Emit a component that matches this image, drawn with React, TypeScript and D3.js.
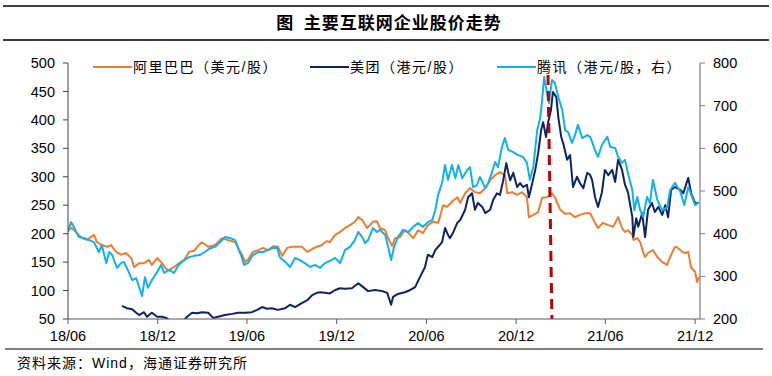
import React from 'react';
import * as d3 from 'd3';

const titleText = '图  主要互联网企业股价走势';
const sourceText = '资料来源：Wind，海通证券研究所';
const seriesNames = ['阿里巴巴（美元/股）', '美团（港元/股）', '腾讯（港元/股，右）'];
const seriesColors = ['#ED7D31', '#0C2461', '#12B0F0'];

const xTickDates = ['2018-06-01', '2018-12-01', '2019-06-01', '2019-12-01', '2020-06-01', '2020-12-01', '2021-06-01', '2021-12-01'];
const xTickLabels = ['18/06', '18/12', '19/06', '19/12', '20/06', '20/12', '21/06', '21/12'];
const leftTicks = [50, 100, 150, 200, 250, 300, 350, 400, 450, 500];
const rightTicks = [200, 300, 400, 500, 600, 700, 800];
const xDomain = ['2018-06-01', '2021-12-11'];

const alibaba: [string, number][] = [
  ['2018-06-01', 206], ['2018-06-09', 210], ['2018-06-19', 201], ['2018-06-30', 192], ['2018-07-10', 189], ['2018-07-24', 198], ['2018-07-30', 185], ['2018-08-09', 180], ['2018-08-20', 177], ['2018-08-28', 180], ['2018-09-07', 168], ['2018-09-17', 163], ['2018-09-27', 166], ['2018-10-08', 157], ['2018-10-14', 141], ['2018-10-24', 148], ['2018-11-03', 148], ['2018-11-13', 154], ['2018-11-19', 145], ['2018-11-30', 157], ['2018-12-10', 148], ['2018-12-18', 138], ['2018-12-24', 136],
  ['2019-01-03', 141], ['2019-01-13', 148], ['2019-01-24', 154], ['2019-02-03', 168], ['2019-02-13', 170], ['2019-02-23', 180], ['2019-03-01', 185], ['2019-03-14', 177], ['2019-03-28', 180], ['2019-04-11', 192], ['2019-04-23', 189], ['2019-05-08', 185], ['2019-05-14', 175], ['2019-05-22', 163], ['2019-05-28', 150], ['2019-06-03', 154], ['2019-06-13', 168], ['2019-06-24', 171], ['2019-07-04', 175], ['2019-07-14', 171], ['2019-07-24', 178], ['2019-08-03', 177], ['2019-08-12', 161], ['2019-08-22', 175], ['2019-09-01', 177], ['2019-09-11', 177], ['2019-09-21', 177], ['2019-10-02', 168], ['2019-10-12', 173], ['2019-10-22', 177], ['2019-11-01', 180], ['2019-11-11', 187], ['2019-11-17', 185], ['2019-11-28', 198], ['2019-12-08', 203], ['2019-12-18', 210], ['2019-12-28', 215],
  ['2020-01-07', 221], ['2020-01-14', 229], ['2020-01-22', 224], ['2020-02-01', 210], ['2020-02-07', 215], ['2020-02-13', 221], ['2020-02-21', 222], ['2020-02-27', 210], ['2020-03-09', 206], ['2020-03-15', 192], ['2020-03-23', 178], ['2020-03-29', 192], ['2020-04-08', 194], ['2020-04-18', 206], ['2020-04-29', 198], ['2020-05-05', 192], ['2020-05-15', 206], ['2020-05-25', 201], ['2020-06-04', 215], ['2020-06-15', 221], ['2020-06-25', 219], ['2020-06-29', 231], ['2020-07-05', 250], ['2020-07-13', 247], ['2020-07-23', 256], ['2020-08-03', 264], ['2020-08-09', 254], ['2020-08-19', 271], ['2020-08-29', 280], ['2020-09-08', 273], ['2020-09-18', 271], ['2020-09-29', 280], ['2020-10-09', 294], ['2020-10-19', 303], ['2020-10-29', 308], ['2020-11-08', 303], ['2020-11-13', 271], ['2020-11-23', 273], ['2020-12-03', 268], ['2020-12-13', 273], ['2020-12-23', 264], ['2020-12-27', 229],
  ['2021-01-05', 233], ['2021-01-15', 238], ['2021-01-23', 263], ['2021-02-02', 264], ['2021-02-12', 271], ['2021-02-18', 264], ['2021-03-01', 242], ['2021-03-11', 235], ['2021-03-21', 236], ['2021-03-31', 229], ['2021-04-10', 233], ['2021-04-21', 236], ['2021-05-01', 236], ['2021-05-11', 219], ['2021-05-17', 210], ['2021-05-27', 219], ['2021-06-07', 215], ['2021-06-17', 212], ['2021-06-27', 229], ['2021-07-05', 210], ['2021-07-11', 203], ['2021-07-17', 206], ['2021-07-26', 198], ['2021-07-28', 189], ['2021-08-05', 192], ['2021-08-11', 185], ['2021-08-17', 168], ['2021-08-21', 159], ['2021-08-27', 166], ['2021-09-06', 171], ['2021-09-15', 159], ['2021-09-25', 150], ['2021-10-05', 145], ['2021-10-11', 159], ['2021-10-21', 177], ['2021-10-27', 175], ['2021-11-05', 168], ['2021-11-11', 166], ['2021-11-17', 168], ['2021-11-23', 140], ['2021-12-01', 133], ['2021-12-05', 115], ['2021-12-09', 124],
];

const meituan: [string, number][] = [
  ['2018-09-19', 73], ['2018-09-29', 69], ['2018-10-10', 67], ['2018-10-18', 61], ['2018-10-24', 57], ['2018-11-03', 62], ['2018-11-09', 54], ['2018-11-19', 61], ['2018-11-30', 54], ['2018-12-10', 54], ['2018-12-18', 52], ['2018-12-26', 47], ['2019-01-05', 44], ['2019-01-15', 45], ['2019-01-24', 48], ['2019-01-30', 54], ['2019-02-09', 61], ['2019-02-19', 60], ['2019-03-01', 62], ['2019-03-14', 61], ['2019-03-24', 52], ['2019-04-03', 54], ['2019-04-17', 57], ['2019-05-02', 59], ['2019-05-14', 61], ['2019-05-28', 61], ['2019-06-11', 62], ['2019-06-22', 66], ['2019-07-02', 71], ['2019-07-12', 68], ['2019-07-22', 69], ['2019-08-03', 66], ['2019-08-18', 69], ['2019-08-28', 75], ['2019-09-07', 71], ['2019-09-21', 78], ['2019-10-02', 83], ['2019-10-12', 92], ['2019-10-22', 96], ['2019-10-28', 97], ['2019-11-07', 96], ['2019-11-17', 95], ['2019-11-28', 101], ['2019-12-08', 104], ['2019-12-18', 103],
  ['2020-01-01', 104], ['2020-01-14', 113], ['2020-01-24', 106], ['2020-02-03', 99], ['2020-02-17', 101], ['2020-03-03', 99], ['2020-03-13', 96], ['2020-03-21', 75], ['2020-03-25', 89], ['2020-04-04', 94], ['2020-04-18', 97], ['2020-04-29', 101], ['2020-05-09', 106], ['2020-05-19', 124], ['2020-05-29', 141], ['2020-06-04', 163], ['2020-06-13', 159], ['2020-06-19', 171], ['2020-06-25', 177], ['2020-07-03', 185], ['2020-07-09', 210], ['2020-07-15', 198], ['2020-07-19', 192], ['2020-07-25', 201], ['2020-08-03', 219], ['2020-08-09', 224], ['2020-08-19', 242], ['2020-08-25', 264], ['2020-09-02', 271], ['2020-09-08', 242], ['2020-09-14', 254], ['2020-09-23', 247], ['2020-09-29', 236], ['2020-10-09', 242], ['2020-10-15', 259], ['2020-10-23', 271], ['2020-10-29', 268], ['2020-11-04', 291], ['2020-11-11', 324], ['2020-11-15', 307], ['2020-11-19', 294], ['2020-11-25', 307], ['2020-12-03', 282], ['2020-12-09', 289], ['2020-12-15', 282], ['2020-12-23', 286], ['2020-12-27', 264],
  ['2021-01-03', 289], ['2021-01-09', 312], ['2021-01-15', 342], ['2021-01-21', 382], ['2021-01-25', 396], ['2021-01-31', 370], ['2021-02-04', 395], ['2021-02-10', 417], ['2021-02-14', 449], ['2021-02-21', 440], ['2021-02-25', 405], ['2021-03-03', 370], ['2021-03-07', 359], ['2021-03-15', 330], ['2021-03-21', 338], ['2021-03-27', 282], ['2021-04-04', 300], ['2021-04-10', 289], ['2021-04-17', 280], ['2021-04-25', 307], ['2021-05-01', 303], ['2021-05-05', 294], ['2021-05-11', 264], ['2021-05-17', 247], ['2021-05-25', 273], ['2021-05-31', 312], ['2021-06-07', 303], ['2021-06-15', 312], ['2021-06-21', 291], ['2021-06-27', 330], ['2021-07-05', 312], ['2021-07-11', 286], ['2021-07-17', 273], ['2021-07-26', 229], ['2021-07-28', 194], ['2021-08-03', 227], ['2021-08-07', 212], ['2021-08-15', 236], ['2021-08-21', 194], ['2021-08-27', 242], ['2021-09-04', 254], ['2021-09-10', 238], ['2021-09-17', 247], ['2021-09-25', 233], ['2021-10-01', 250], ['2021-10-07', 229], ['2021-10-13', 277], ['2021-10-21', 282], ['2021-11-01', 277], ['2021-11-07', 271], ['2021-11-17', 298], ['2021-11-23', 271], ['2021-12-01', 254], ['2021-12-09', 254],
];

const tencent: [string, number][] = [
  ['2018-06-01', 404], ['2018-06-07', 427], ['2018-06-13', 416], ['2018-06-23', 392], ['2018-07-04', 390], ['2018-07-14', 385], ['2018-07-24', 380], ['2018-08-03', 357], ['2018-08-09', 373], ['2018-08-18', 331], ['2018-08-24', 357], ['2018-08-30', 350], ['2018-09-09', 320], ['2018-09-17', 331], ['2018-09-23', 334], ['2018-10-03', 310], ['2018-10-10', 291], ['2018-10-18', 296], ['2018-10-24', 275], ['2018-10-30', 254], ['2018-11-05', 298], ['2018-11-11', 273], ['2018-11-19', 291], ['2018-11-30', 310], ['2018-12-08', 327], ['2018-12-14', 308], ['2018-12-24', 315],
  ['2019-01-03', 308], ['2019-01-13', 327], ['2019-01-24', 338], ['2019-02-03', 345], ['2019-02-13', 348], ['2019-02-25', 350], ['2019-03-07', 357], ['2019-03-18', 366], ['2019-03-28', 369], ['2019-04-07', 380], ['2019-04-17', 392], ['2019-04-27', 390], ['2019-05-08', 385], ['2019-05-14', 366], ['2019-05-22', 343], ['2019-05-26', 327], ['2019-06-03', 331], ['2019-06-13', 350], ['2019-06-24', 357], ['2019-07-04', 357], ['2019-07-14', 362], ['2019-07-24', 366], ['2019-08-01', 369], ['2019-08-07', 345], ['2019-08-18', 334], ['2019-08-28', 322], ['2019-09-07', 343], ['2019-09-17', 338], ['2019-09-27', 331], ['2019-10-08', 322], ['2019-10-18', 327], ['2019-10-28', 320], ['2019-11-07', 331], ['2019-11-17', 336], ['2019-11-28', 343], ['2019-12-08', 331], ['2019-12-18', 362], ['2019-12-28', 369],
  ['2020-01-07', 385], ['2020-01-14', 404], ['2020-01-22', 392], ['2020-01-28', 378], ['2020-02-03', 385], ['2020-02-13', 413], ['2020-02-21', 404], ['2020-02-27', 409], ['2020-03-09', 397], ['2020-03-15', 369], ['2020-03-21', 338], ['2020-03-27', 369], ['2020-04-04', 392], ['2020-04-14', 409], ['2020-04-25', 404], ['2020-05-05', 416], ['2020-05-15', 425], ['2020-05-25', 416], ['2020-06-04', 427], ['2020-06-13', 432], ['2020-06-19', 455], ['2020-06-25', 491], ['2020-07-03', 519], ['2020-07-09', 561], ['2020-07-15', 526], ['2020-07-23', 561], ['2020-07-30', 530], ['2020-08-05', 561], ['2020-08-13', 530], ['2020-08-23', 549], ['2020-08-29', 556], ['2020-09-04', 509], ['2020-09-12', 514], ['2020-09-18', 533], ['2020-09-29', 507], ['2020-10-05', 519], ['2020-10-13', 545], ['2020-10-19', 568], ['2020-10-25', 556], ['2020-11-02', 603], ['2020-11-08', 624], ['2020-11-15', 596], ['2020-11-25', 591], ['2020-12-05', 584], ['2020-12-15', 580], ['2020-12-23', 566], ['2020-12-29', 526],
  ['2021-01-05', 556], ['2021-01-13', 643], ['2021-01-19', 671], ['2021-01-23', 713], ['2021-01-27', 767], ['2021-02-02', 730], ['2021-02-06', 706], ['2021-02-12', 760], ['2021-02-18', 753], ['2021-02-25', 720], ['2021-03-05', 690], ['2021-03-11', 643], ['2021-03-17', 638], ['2021-03-25', 613], ['2021-03-31', 631], ['2021-04-06', 655], ['2021-04-15', 624], ['2021-04-25', 631], ['2021-05-01', 627], ['2021-05-11', 596], ['2021-05-17', 580], ['2021-05-25', 608], ['2021-06-05', 627], ['2021-06-11', 603], ['2021-06-21', 601], ['2021-06-27', 580], ['2021-07-05', 566], ['2021-07-11', 573], ['2021-07-17', 542], ['2021-07-26', 502], ['2021-07-30', 455], ['2021-08-05', 486], ['2021-08-11', 455], ['2021-08-17', 439], ['2021-08-25', 486], ['2021-08-31', 472], ['2021-09-06', 526], ['2021-09-15', 479], ['2021-09-25', 455], ['2021-10-05', 462], ['2021-10-11', 502], ['2021-10-21', 519], ['2021-11-01', 498], ['2021-11-09', 467], ['2021-11-17', 509], ['2021-11-25', 486], ['2021-12-01', 467], ['2021-12-09', 474],
];

// red dashed marker line (right-axis values)
const markerLine: [string, number][] = [['2021-02-04', 772], ['2021-02-12', 200]];

const W = 772;
const H = 376;
const M = { left: 68, right: 700, top: 63, bottom: 319 };
const numFont = '"Liberation Sans", Arial, sans-serif';
const cjkFont = '"Liberation Sans", "Noto Sans CJK SC", sans-serif';

export default function App() {
  const parse = d3.timeParse('%Y-%m-%d');
  const x = d3.scaleTime().domain(xDomain.map((d) => parse(d) as Date)).range([M.left, M.right]);
  const yL = d3.scaleLinear().domain([50, 500]).range([M.bottom, M.top]);
  const yR = d3.scaleLinear().domain([200, 800]).range([M.bottom, M.top]);

  const lineL = d3.line<[string, number]>().x((d) => x(parse(d[0]) as Date)).y((d) => yL(d[1]));
  const lineR = d3.line<[string, number]>().x((d) => x(parse(d[0]) as Date)).y((d) => yR(d[1]));

  const legendItems = [
    { name: seriesNames[0], color: seriesColors[0], x0: 93 },
    { name: seriesNames[1], color: seriesColors[1], x0: 310 },
    { name: seriesNames[2], color: seriesColors[2], x0: 497 },
  ];

  return (
    <svg width={W} height={H} style={{ position: 'absolute', left: 0, top: 0, background: '#fff' }}>
      <rect x={0} y={0} width={W} height={H} fill="#fff" />
      {/* title block */}
      <line x1={3} x2={769} y1={6} y2={6} stroke="#000" strokeWidth={1.5} />
      <text x={389} y={29} textAnchor="middle" fontFamily='"Noto Sans CJK SC", sans-serif' fontWeight={700} fontSize={17} letterSpacing={1} fill="#000" style={{ whiteSpace: 'pre' }}>
        {titleText}
      </text>
      <line x1={3} x2={769} y1={40} y2={40} stroke="#000" strokeWidth={1.5} />

      <defs>
        <clipPath id="plotClip">
          <rect x={M.left} y={M.top - 10} width={M.right - M.left} height={M.bottom - M.top + 10} />
        </clipPath>
      </defs>

      {/* series */}
      <g clipPath="url(#plotClip)" fill="none" strokeWidth={2} strokeLinejoin="round">
        <path d={lineL(alibaba) || ''} stroke={seriesColors[0]} />
        <path d={lineL(meituan) || ''} stroke={seriesColors[1]} />
        <path d={lineR(tencent) || ''} stroke={seriesColors[2]} />
      </g>
      <path d={lineR(markerLine) || ''} stroke="#C00000" strokeWidth={3} strokeDasharray="10 6" fill="none" />

      {/* left axis */}
      <line x1={M.left} x2={M.left} y1={M.top} y2={M.bottom} stroke="#404040" strokeWidth={1} />
      {leftTicks.map((t) => (
        <g key={'l' + t}>
          <line x1={M.left - 5} x2={M.left} y1={yL(t)} y2={yL(t)} stroke="#404040" />
          <text x={M.left - 13} y={yL(t)} dy="0.35em" textAnchor="end" fontFamily={numFont} fontSize={14.5} fill="#000">
            {t}
          </text>
        </g>
      ))}

      {/* right axis */}
      <line x1={M.right} x2={M.right} y1={M.top} y2={M.bottom} stroke="#808080" strokeWidth={1.2} />
      {rightTicks.map((t) => (
        <g key={'r' + t}>
          <line x1={M.right} x2={M.right + 5} y1={yR(t)} y2={yR(t)} stroke="#808080" />
          <text x={M.right + 13} y={yR(t)} dy="0.35em" textAnchor="start" fontFamily={numFont} fontSize={14.5} fill="#000">
            {t}
          </text>
        </g>
      ))}

      {/* x axis */}
      <line x1={M.left} x2={M.right} y1={M.bottom} y2={M.bottom} stroke="#595959" strokeWidth={1.2} />
      {xTickDates.map((d, i) => {
        const xp = x(parse(d) as Date);
        return (
          <g key={'x' + d}>
            <line x1={xp} x2={xp} y1={M.bottom} y2={M.bottom + 5} stroke="#595959" />
            <text x={xp} y={341} textAnchor="middle" fontFamily={numFont} fontSize={14.5} fill="#000">
              {xTickLabels[i]}
            </text>
          </g>
        );
      })}

      {/* legend */}
      {legendItems.map((it) => (
        <g key={it.name}>
          <line x1={it.x0} x2={it.x0 + 39} y1={67} y2={67} stroke={it.color} strokeWidth={2} />
          <text x={it.x0 + 40} y={67} dy="0.36em" fontFamily={cjkFont} fontSize={14} letterSpacing={1.5} fill="#000">
            {it.name}
          </text>
        </g>
      ))}

      {/* source */}
      <line x1={5} x2={763} y1={349} y2={349} stroke="#000" strokeWidth={1.2} />
      <text x={17} y={368} fontFamily={cjkFont} fontSize={14} letterSpacing={1} fill="#000">
        {sourceText}
      </text>
    </svg>
  );
}
